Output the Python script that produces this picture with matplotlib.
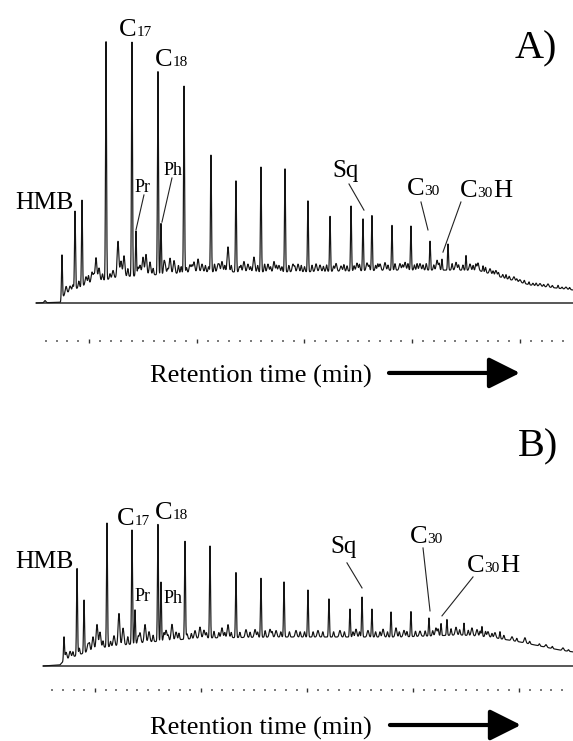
import numpy as np
import matplotlib.pyplot as plt

plt.rcParams['font.family'] = ['Liberation Serif', 'DejaVu Serif']

# ---- Panel A: GC trace (retention time in min, height in relative abundance) ----
a_peak_t = [7.49, 8.70, 9.35, 11.58, 13.99, 14.36, 16.40, 16.68, 18.82, 21.32, 23.64, 25.96,
            28.19, 30.32, 32.37, 34.32, 35.43, 36.26, 38.12, 39.88, 41.65, 42.76, 43.32,
            44.99, 46.57, 48.70, 50.84, 53.53]
a_peak_h = [16.9, 29.9, 33.0, 91.2, 89.7, 17.2, 77.8, 19.5, 71.6, 44.8, 34.9, 40.2,
            39.5, 27.2, 21.1, 24.9, 19.9, 21.1, 17.2, 16.9, 11.1, 4.2, 10.0,
            5.7, 2.3, 1.5, 1.1, 1.1]
# small peaks between the main ones
a_minor_t = [5.92, 7.87, 8.24, 9.72, 10.28, 10.65, 10.93, 12.23, 12.69, 12.97, 13.25, 14.73,
             15.01, 15.29, 15.66, 17.05, 17.52, 17.89, 19.37, 19.74, 20.12, 20.49, 21.97,
             22.34, 22.90, 24.38, 24.75, 25.31, 26.61, 27.17, 27.63, 28.93, 29.40, 31.07,
             31.44, 32.93, 33.39, 34.87, 35.80, 37.01, 37.47, 38.86, 39.33, 40.72, 42.30,
             44.06, 45.36, 46.10, 47.22, 47.77, 49.44, 50.00, 51.86, 52.60, 54.27]
a_minor_h = [0.8, 3.0, 2.0, 3.0, 4.0, 9.2, 5.0, 3.0, 13.8, 6.0, 8.0, 4.0,
             7.0, 8.0, 5.0, 4.0, 6.0, 5.0, 3.0, 4.0, 5.0, 3.0, 3.0,
             4.0, 9.6, 4.0, 3.0, 5.7, 3.0, 4.0, 2.5, 3.0, 3.0, 3.0,
             2.5, 3.0, 2.0, 3.0, 3.0, 2.5, 3.0, 2.5, 3.0, 2.5, 3.8,
             3.0, 2.5, 3.0, 2.0, 2.0, 1.5, 1.0, 1.0, 1.2, 0.8]
# baseline grass
a_noise_t = [8.50, 9.05, 9.95, 10.45, 11.25, 11.95, 13.60, 14.55, 15.95, 16.95, 17.30, 18.30,
             18.55, 19.05, 19.55, 20.80, 21.10, 21.65, 22.10, 22.60, 23.20, 23.95, 24.10,
             25.00, 25.65, 26.30, 26.85, 27.40, 27.90, 28.55, 29.10, 29.70, 30.00, 30.70,
             31.75, 32.05, 32.70, 33.65, 33.95, 34.60, 35.10, 36.00, 36.60, 36.80, 37.75,
             38.40, 39.10, 39.60, 40.20, 40.45, 41.00, 41.30, 42.00, 42.50, 43.70, 44.30,
             44.70, 45.65, 45.90, 46.80, 47.50, 48.00, 48.40, 49.00, 49.70, 50.40, 51.20,
             51.50, 52.20, 53.00, 53.90, 54.60]
a_noise_h = [2.0, 2.5, 3.0, 2.5, 2.5, 2.0, 3.0, 3.0, 2.5, 3.0, 2.0, 3.0,
             2.5, 2.0, 2.5, 2.5, 2.0, 3.0, 2.0, 2.5, 2.5, 2.0, 2.5,
             2.0, 2.5, 3.0, 2.0, 2.5, 2.0, 2.5, 2.0, 2.5, 2.0, 2.5,
             2.0, 2.5, 2.0, 2.5, 2.0, 2.0, 2.5, 2.0, 2.0, 2.5, 2.0,
             2.5, 2.0, 2.5, 2.0, 2.5, 2.0, 2.5, 2.0, 2.5, 2.5, 2.0,
             2.0, 2.0, 2.5, 2.0, 1.5, 1.5, 1.2, 1.2, 1.0, 1.2, 0.8,
             1.0, 0.8, 0.8, 0.6, 0.8]
a_hump_t = [5.08, 7.35, 7.60, 8.24, 10.09, 12.88, 15.66, 20.30, 29.58, 38.86, 44.43,
            46.29, 48.14, 50.93, 54.92]
a_hump_h = [0.0, 0.3, 2.5, 4.5, 7.7, 10.0, 10.7, 11.9, 11.9, 12.6, 12.6,
            12.3, 10.0, 6.9, 5.0]

# ---- Panel B ----
b_peak_t = [7.68, 8.89, 9.54, 11.67, 13.99, 14.27, 16.40, 16.68, 18.91, 21.23, 23.64, 25.96,
            28.10, 30.32, 32.27, 34.22, 35.34, 36.26, 38.03, 39.88, 41.55, 42.67, 43.22,
            44.80, 46.47, 48.14]
b_peak_h = [9.2, 33.3, 20.3, 47.5, 43.7, 13.0, 44.8, 22.6, 37.5, 35.2, 24.9, 22.6,
            21.1, 18.0, 14.6, 10.7, 15.3, 10.7, 9.6, 9.6, 6.9, 4.6, 6.1,
            4.6, 3.8, 2.7]
b_minor_t = [7.87, 8.24, 9.91, 10.37, 10.74, 11.02, 12.32, 12.78, 13.16, 14.73, 15.20, 15.57,
             17.15, 17.70, 18.08, 19.84, 20.30, 20.67, 22.34, 22.90, 24.57, 25.41, 26.80,
             27.36, 29.21, 31.25, 33.29, 34.78, 35.89, 37.29, 38.49, 39.23, 40.72, 42.20,
             44.06, 45.54, 46.01, 47.03, 47.68, 49.26, 50.46, 52.41, 53.99]
b_minor_h = [3.0, 2.5, 3.0, 5.0, 9.2, 6.0, 4.0, 12.3, 6.5, 4.0, 6.9, 4.0,
             4.0, 6.1, 3.0, 3.0, 4.2, 3.0, 3.8, 5.0, 3.0, 3.0, 3.0,
             2.5, 2.5, 2.5, 2.5, 3.0, 2.5, 3.0, 3.5, 2.5, 2.0, 3.0,
             3.0, 3.0, 2.5, 2.0, 2.0, 1.5, 2.0, 1.0, 1.0]
b_noise_t = [8.50, 9.10, 10.05, 11.30, 12.00, 13.60, 14.55, 15.95, 16.95, 17.35, 18.35, 19.10,
             19.50, 20.90, 21.60, 22.05, 22.60, 23.20, 24.00, 24.95, 25.65, 26.35, 27.00,
             27.80, 28.60, 29.60, 30.00, 30.80, 31.70, 32.70, 33.70, 34.50, 35.10, 36.60,
             37.00, 37.70, 38.80, 39.50, 40.30, 41.20, 41.90, 42.40, 43.60, 44.40, 45.20,
             46.30, 46.80, 47.40, 48.50, 49.70, 50.90, 51.80, 53.00, 54.50]
b_noise_h = [2.0, 2.5, 2.5, 2.5, 2.0, 3.0, 2.5, 2.5, 3.0, 2.0, 2.5, 2.0,
             2.0, 2.0, 2.5, 2.0, 2.0, 2.0, 2.0, 2.0, 2.0, 2.5, 2.0,
             2.0, 2.0, 2.0, 2.0, 2.0, 2.0, 2.0, 2.0, 2.0, 2.0, 2.0,
             2.0, 2.0, 2.0, 2.0, 2.0, 2.0, 2.0, 2.5, 2.5, 2.0, 2.0,
             2.0, 2.0, 1.5, 1.5, 1.2, 1.0, 0.8, 0.8, 0.6]
b_hump_t = [5.73, 7.30, 7.55, 8.24, 10.88, 15.66, 20.30, 27.73, 38.86, 44.43, 47.22,
            50.00, 53.70, 54.92]
b_hump_h = [0.0, 0.4, 1.5, 3.1, 6.9, 9.2, 10.7, 11.1, 11.1, 11.9, 11.1,
            9.2, 6.1, 5.4]

# x-axis tick marks (dotted scale under each trace)
a_major = [10, 20, 30, 40, 50]
b_major = [10.55, 20.40, 30.25, 40.10, 49.95]

T_MIN, T_MAX = 1.74, 54.92
C_SIZE, SUB_SIZE = 19, 11
C_ADV = 0.667 * C_SIZE       # advance of "C" in points
SUB_ADV = 1.0 * SUB_SIZE     # two digits


def trace(hump_t, hump_h, peaks, minors, noise):
    t = np.linspace(hump_t[0], T_MAX, 14000)
    y = np.interp(t, hump_t, hump_h)
    for (pt, ph), sig in ((peaks, 0.045), (minors, 0.08), (noise, 0.055)):
        for c, h in zip(pt, ph):
            y = y + h * np.exp(-0.5 * ((t - c) / sig) ** 2)
    return t, y


def carbon_label(ax, t, y, num, tail=''):
    kw = dict(va='baseline', ha='left', annotation_clip=False, textcoords='offset points')
    ax.text(t, y, 'C', fontsize=C_SIZE, va='baseline', ha='left', clip_on=False)
    ax.annotate(num, xy=(t, y), xytext=(C_ADV, 0), fontsize=SUB_SIZE, **kw)
    if tail:
        ax.annotate(tail, xy=(t, y), xytext=(C_ADV + SUB_ADV, 0), fontsize=C_SIZE, **kw)


def leader(ax, t0, y0, t1, y1):
    ax.plot([t0, t1], [y0, y1], color='#222222', lw=0.8, clip_on=False)


def setup(ax, major, ylim, hump_t):
    ax.set_xlim(T_MIN, T_MAX)
    ax.set_ylim(*ylim)
    step = (major[1] - major[0]) / 10
    minor = np.arange(major[0] - 4 * step, major[-1] + 4.5 * step, step)
    ax.set_xticks(major)
    ax.set_xticks(minor, minor=True)
    ax.tick_params(axis='x', which='major', length=3.0, width=1.0, color='#333333',
                   direction='inout', labelbottom=False)
    ax.tick_params(axis='x', which='minor', length=1.1, width=1.1, color='#555555',
                   direction='inout')
    ax.set_yticks([])
    for s in ax.spines.values():
        s.set_visible(False)
    ax.patch.set_visible(False)
    # zero line of the detector
    ax.plot([hump_t[0], T_MAX], [0, 0], color='#4a4a4a', lw=1.3, solid_capstyle='butt')


def time_label(ax, y_text, y_arrow, t_arrow0, t_arrow1):
    ax.text(15.66, y_text, 'Retention time (min)', fontsize=19, ha='left', va='baseline',
            clip_on=False)
    ax.annotate('', xy=(t_arrow1, y_arrow), xytext=(t_arrow0, y_arrow), annotation_clip=False,
                arrowprops=dict(arrowstyle='-|>,head_length=1.9,head_width=0.95',
                                color='black', lw=3, shrinkA=0, shrinkB=0, mutation_scale=10))


fig = plt.figure(figsize=(5.73, 7.41), dpi=100)
axA = fig.add_axes([0, 0.5398, 1, 0.4602])
axB = fig.add_axes([0, 0.0688, 1, 0.4049])

# ---- Panel A ----
setup(axA, a_major, (-14.56, 116.1), a_hump_t)
t, y = trace(a_hump_t, a_hump_h, (a_peak_t, a_peak_h), (a_minor_t, a_minor_h),
             (a_noise_t, a_noise_h))
axA.plot(t, y, color='#141414', lw=0.85)

axA.text(3.13, 36.0, 'HMB', fontsize=18.5, ha='left', va='baseline', clip_on=False)
carbon_label(axA, 12.78, 102.3, '17')
carbon_label(axA, 16.13, 90.8, '18')
axA.text(14.18, 42.5, 'Pr', fontsize=13, ha='left', va='baseline')
axA.text(16.87, 49.0, 'Ph', fontsize=13, ha='left', va='baseline')
axA.text(32.55, 48.3, 'Sq', fontsize=18, ha='left', va='baseline')
carbon_label(axA, 39.51, 41.4, '30')
carbon_label(axA, 44.43, 40.6, '30', 'H')
axA.text(49.54, 93.9, 'A)', fontsize=29, ha='left', va='baseline')
leader(axA, 15.10, 41.4, 14.36, 28.0)
leader(axA, 17.70, 47.9, 16.77, 31.0)
leader(axA, 34.13, 45.6, 35.52, 35.6)
leader(axA, 40.81, 38.7, 41.46, 28.0)
leader(axA, 44.52, 38.7, 42.85, 19.5)
time_label(axA, -30.3, -26.8, 37.84, 50.0)

# ---- Panel B ----
setup(axB, b_major, (-9.2, 105.7), b_hump_t)
t, y = trace(b_hump_t, b_hump_h, (b_peak_t, b_peak_h), (b_minor_t, b_minor_h),
             (b_noise_t, b_noise_h))
axB.plot(t, y, color='#141414', lw=0.85)

axB.text(3.13, 37.5, 'HMB', fontsize=18.5, ha='left', va='baseline', clip_on=False)
carbon_label(axB, 12.60, 54.0, '17')
carbon_label(axB, 16.13, 56.3, '18')
axB.text(14.27, 24.9, 'Pr', fontsize=13, ha='left', va='baseline')
axB.text(16.87, 24.1, 'Ph', fontsize=13, ha='left', va='baseline')
axB.text(32.37, 43.3, 'Sq', fontsize=18, ha='left', va='baseline')
carbon_label(axB, 39.79, 47.1, '30')
carbon_label(axB, 45.08, 36.0, '30', 'H')
axB.text(49.81, 80.1, 'B)', fontsize=29, ha='left', va='baseline')
leader(axB, 33.94, 39.5, 35.34, 29.9)
leader(axB, 41.00, 45.2, 41.65, 21.1)
leader(axB, 45.64, 34.1, 42.76, 19.2)
time_label(axB, -26.4, -22.6, 37.93, 50.09)

fig.savefig('out.png', dpi=100)
